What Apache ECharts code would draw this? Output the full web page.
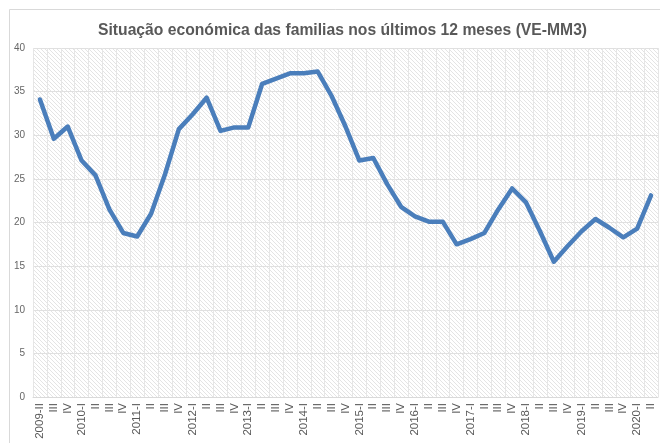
<!DOCTYPE html>
<html>
<head>
<meta charset="utf-8">
<script src="https://cdn.jsdelivr.net/npm/echarts@6/dist/echarts.min.js"></script>
<style>
body { margin: 0; background: #fff; }
#echart { width: 660px; height: 443px; }
</style>
</head>
<body>
<div id="echart"></div>
<script>
var quarters = [
	'2009-II', 'III', 'IV',
	'2010-I', 'II', 'III', 'IV',
	'2011-I', 'II', 'III', 'IV',
	'2012-I', 'II', 'III', 'IV',
	'2013-I', 'II', 'III', 'IV',
	'2014-I', 'II', 'III', 'IV',
	'2015-I', 'II', 'III', 'IV',
	'2016-I', 'II', 'III', 'IV',
	'2017-I', 'II', 'III', 'IV',
	'2018-I', 'II', 'III', 'IV',
	'2019-I', 'II', 'III', 'IV',
	'2020-I', 'II'
];
var situacao = [
	34.1, 29.6, 31.0,
	27.1, 25.4, 21.5, 18.8,
	18.4, 21.0, 25.5, 30.7,
	32.4, 34.3, 30.5, 30.9,
	30.9, 35.9, 36.5, 37.1,
	37.1, 37.3, 34.5, 31.0,
	27.1, 27.4, 24.4, 21.8,
	20.7, 20.1, 20.1, 17.5,
	18.1, 18.8, 21.5, 23.9,
	22.3, 19.0, 15.5, 17.3,
	19.0, 20.4, 19.4, 18.3,
	19.3, 23.1
];
var yTicks = [0, 5, 10, 15, 20, 25, 30, 35, 40];

// hatched plot background
var hatch = document.createElement('canvas');
hatch.width = 4;
hatch.height = 4;
var hctx = hatch.getContext('2d');
hctx.fillStyle = '#ffffff';
hctx.fillRect(0, 0, 4, 4);
hctx.strokeStyle = '#e4e4e4';
hctx.lineWidth = 1;
hctx.beginPath();
hctx.moveTo(-1, -1);
hctx.lineTo(5, 5);
hctx.stroke();

var myChart = echarts.init(document.getElementById('echart'));

var option = {
	backgroundColor: '#ffffff',
	animation: false,
	title: {
		text: 'Situação económica das familias nos últimos 12 meses (VE-MM3)',
		left: 93,
		top: 18,
		textStyle: {
			fontFamily: 'Liberation Sans',
			fontSize: 15.7,
			fontWeight: 'bold',
			color: '#595959'
		}
	},
	graphic: [{
		type: 'rect',
		shape: { x: 9.5, y: 9.5, width: 700, height: 500 },
		style: { fill: 'none', stroke: '#d9d9d9', lineWidth: 1 },
		silent: true
	}],
	grid: {
		left: 33,
		right: 2,
		top: 48,
		bottom: 46,
		show: true,
		borderWidth: 0,
		backgroundColor: { image: hatch, repeat: 'repeat' }
	},
	xAxis: {
		type: 'category',
		data: quarters,
		boundaryGap: true,
		axisLine: { lineStyle: { color: '#d9d9d9' } },
		axisTick: { show: false },
		axisLabel: {
			interval: 0,
			rotate: 90,
			margin: 6,
			fontFamily: 'Liberation Sans',
			fontSize: 11.5,
			color: '#595959'
		},
		splitLine: {
			show: true,
			interval: 0,
			lineStyle: { color: '#e6e6e6', width: 1 }
		}
	},
	yAxis: {
		type: 'value',
		min: yTicks[0],
		max: yTicks[yTicks.length - 1],
		interval: yTicks[1] - yTicks[0],
		axisLine: { show: false },
		axisTick: { show: false },
		axisLabel: {
			margin: 8,
			fontFamily: 'Liberation Sans',
			fontSize: 10,
			color: '#666666'
		},
		splitLine: { lineStyle: { color: '#e0e0e0', width: 1 } }
	},
	series: [{
		type: 'line',
		data: situacao,
		symbol: 'none',
		lineStyle: { color: '#4a7ebb', width: 4.5, cap: 'round', join: 'round' }
	}]
};

myChart.setOption(option);
</script>
</body>
</html>
